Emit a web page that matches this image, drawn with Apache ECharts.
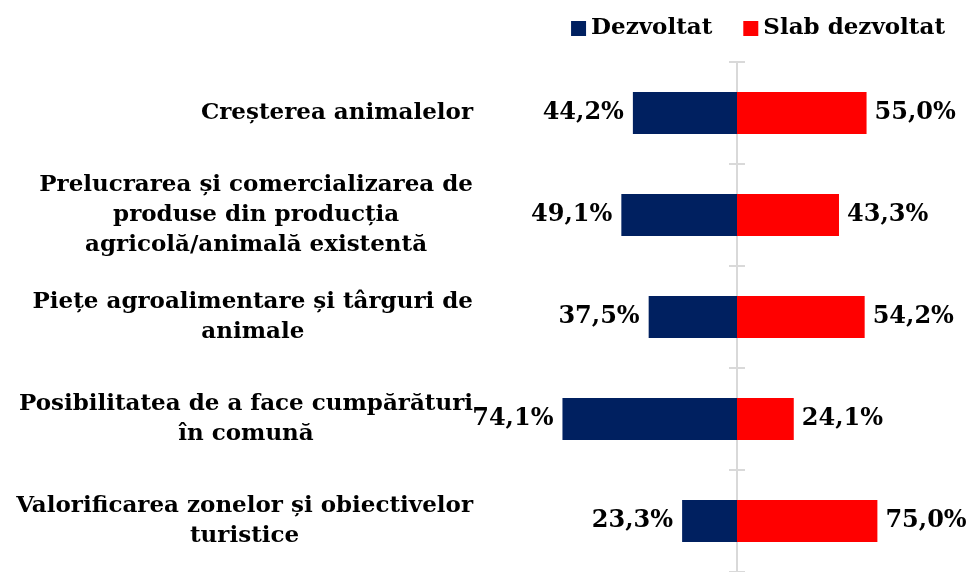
<!DOCTYPE html>
<html>
<head>
<meta charset="utf-8">
<script src="https://cdn.jsdelivr.net/npm/echarts@6/dist/echarts.min.js"></script>
<style>
  html, body { margin: 0; padding: 0; background: #fff; }
  #chart { width: 968px; height: 572px; }
</style>
</head>
<body>
<div id="chart"></div>
<script>
// categorii (de sus in jos)
var categories = [
  'Creșterea animalelor',
  'Prelucrarea și comercializarea de\nproduse din producția\nagricolă/animală existentă',
  'Piețe agroalimentare și târguri de\nanimale',
  'Posibilitatea de a face cumpărături\nîn comună',
  'Valorificarea zonelor și obiectivelor\nturistice'
];
var dezvoltat = [44.2, 49.1, 37.5, 74.1, 23.3];      // procente afisate
var slabDezvoltat = [55.0, 43.3, 54.2, 24.1, 75.0];  // procente afisate
// lungimea barelor rosii asa cum apar in grafic (ultima bara e desenata mai scurta decat eticheta)
var slabBar = [55.0, 43.3, 54.2, 24.1, 59.6];

var FONT = "DejaVu Serif";

function fmt(v) {
  return v.toFixed(1).replace('.', ',') + '%';
}

var myChart = echarts.init(document.getElementById('chart'));

var option = {
  animation: false,
  legend: {
    data: ['Dezvoltat', 'Slab dezvoltat'],
    top: 12,
    right: 18,
    icon: 'rect',
    itemWidth: 15,
    itemHeight: 15,
    itemGap: 31,
    textStyle: { fontFamily: FONT, fontSize: 23, fontWeight: 'bold', color: '#000' }
  },
  grid: { left: 525, right: 19, top: 62, height: 514 },
  xAxis: {
    type: 'value',
    min: -90,
    max: 90,
    show: false
  },
  yAxis: [{
    type: 'category',
    data: categories,
    inverse: true,
    position: 'left',
    axisLine: { show: false, onZero: false },
    axisTick: { show: false },
    axisLabel: {
      margin: 52,
      fontFamily: FONT,
      fontSize: 23,
      fontWeight: 'bold',
      color: '#000',
      lineHeight: 30,
      formatter: function (v) {
        return v.split('\n').map(function (l) { return '{c|' + l + '}'; }).join('\n');
      },
      rich: {
        c: { align: 'center', fontFamily: FONT, fontSize: 23, fontWeight: 'bold', color: '#000', lineHeight: 30 }
      }
    }
  }, {
    // axa centrala, tick spre stanga
    type: 'category',
    data: categories,
    inverse: true,
    position: 'left',
    axisLine: { onZero: true, lineStyle: { color: '#D9D9D9', width: 2 } },
    axisTick: { show: true, length: 8, lineStyle: { color: '#D9D9D9', width: 2 } },
    axisLabel: { show: false }
  }, {
    // acelasi ax, tick spre dreapta (mutat pe centru)
    type: 'category',
    data: categories,
    inverse: true,
    position: 'left',
    offset: -212,
    axisLine: { onZero: false, lineStyle: { color: '#D9D9D9', width: 2 } },
    axisTick: { show: true, inside: true, length: 8, lineStyle: { color: '#D9D9D9', width: 2 } },
    axisLabel: { show: false }
  }],
  series: [{
    name: 'Dezvoltat',
    type: 'bar',
    barWidth: 42,
    barGap: '-100%',
    itemStyle: { color: '#002060' },
    label: {
      show: true,
      position: 'left',
      distance: 9,
      fontFamily: FONT,
      fontSize: 24,
      fontWeight: 'bold',
      color: '#000',
      formatter: function (p) { return fmt(dezvoltat[p.dataIndex]); }
    },
    data: dezvoltat.map(function (v) { return -v; })
  }, {
    name: 'Slab dezvoltat',
    type: 'bar',
    barWidth: 42,
    barGap: '-100%',
    itemStyle: { color: '#FF0000' },
    label: {
      show: true,
      position: 'right',
      distance: 8,
      fontFamily: FONT,
      fontSize: 24,
      fontWeight: 'bold',
      color: '#000',
      formatter: function (p) { return fmt(slabDezvoltat[p.dataIndex]); }
    },
    data: slabBar
  }]
};

myChart.setOption(option);
</script>
</body>
</html>
